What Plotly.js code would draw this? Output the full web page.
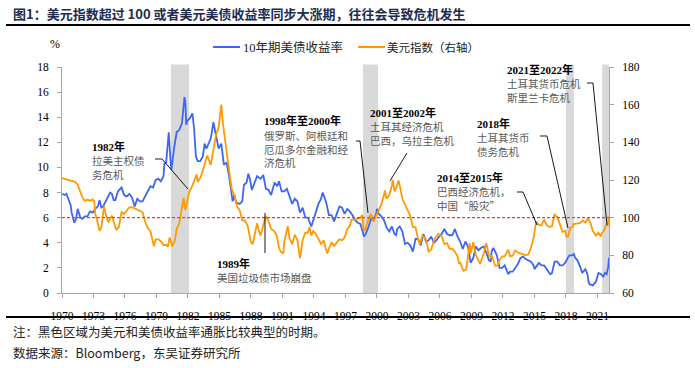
<!DOCTYPE html>
<html><head><meta charset="utf-8">
<script src="https://cdn.plot.ly/plotly-3.0.1.min.js"></script>
<style>html,body{margin:0;padding:0;background:#fff;}#chart{width:695px;height:368px;}</style>
</head><body><div id="chart"></div>
<script>
// ---- data (decimal years) ----
const yieldDates = [1970.00,1970.25,1970.42,1970.58,1970.83,1970.92,1971.17,1971.33,1971.50,1971.75,1971.92,1972.17,1972.42,1972.67,1972.92,1973.17,1973.42,1973.58,1973.75,1973.92,1974.17,1974.33,1974.58,1974.75,1974.92,1975.08,1975.33,1975.67,1975.92,1976.17,1976.42,1976.67,1976.92,1977.17,1977.42,1977.67,1977.92,1978.17,1978.42,1978.67,1978.92,1979.17,1979.42,1979.67,1979.75,1979.92,1980.08,1980.17,1980.33,1980.42,1980.67,1980.92,1981.17,1981.42,1981.67,1981.75,1981.83,1981.92,1982.17,1982.42,1982.58,1982.75,1982.92,1983.17,1983.42,1983.58,1983.75,1983.92,1984.17,1984.42,1984.67,1984.92,1985.17,1985.42,1985.67,1985.92,1986.17,1986.25,1986.42,1986.58,1986.92,1987.17,1987.33,1987.58,1987.75,1987.92,1988.08,1988.42,1988.58,1988.92,1989.17,1989.42,1989.67,1989.92,1990.25,1990.50,1990.67,1990.92,1991.17,1991.42,1991.67,1991.92,1992.17,1992.42,1992.67,1992.92,1993.17,1993.42,1993.75,1993.92,1994.17,1994.42,1994.67,1994.83,1995.17,1995.42,1995.67,1995.92,1996.17,1996.42,1996.67,1996.92,1997.17,1997.42,1997.67,1997.92,1998.17,1998.42,1998.67,1998.75,1998.92,1999.17,1999.42,1999.67,1999.92,2000.00,2000.17,2000.42,2000.67,2000.92,2001.17,2001.42,2001.67,2001.83,2001.92,2002.17,2002.42,2002.67,2002.92,2003.17,2003.42,2003.67,2003.92,2004.17,2004.42,2004.67,2004.92,2005.17,2005.42,2005.67,2005.92,2006.17,2006.42,2006.67,2006.92,2007.17,2007.42,2007.67,2007.92,2008.17,2008.42,2008.67,2008.92,2009.17,2009.42,2009.67,2009.92,2010.17,2010.42,2010.67,2010.83,2010.92,2011.08,2011.42,2011.67,2011.92,2012.17,2012.50,2012.67,2012.92,2013.17,2013.42,2013.67,2013.92,2014.17,2014.42,2014.67,2014.92,2015.00,2015.42,2015.67,2015.92,2016.17,2016.50,2016.67,2016.92,2017.17,2017.42,2017.67,2017.92,2018.17,2018.33,2018.60,2018.75,2018.88,2019.10,2019.35,2019.55,2019.85,2020.05,2020.15,2020.25,2020.55,2020.85,2021.10,2021.35,2021.55,2021.72,2021.87,2021.97,2022.03,2022.10];
const yieldValues = [7.9,7.8,7.9,7.5,7.0,6.4,5.6,5.9,6.7,6.0,5.9,6.1,6.1,6.5,6.4,6.7,6.9,7.4,6.8,6.9,7.3,7.6,8.0,7.9,7.4,7.4,8.1,8.4,7.8,7.7,7.9,7.6,6.9,7.5,7.3,7.3,7.7,8.1,8.5,8.4,9.0,9.1,8.9,9.3,10.3,10.4,12.4,12.8,10.6,9.8,11.5,12.8,13.0,13.5,15.6,15.2,13.4,13.7,13.9,14.3,13.1,10.9,10.5,10.5,10.9,11.9,11.5,11.8,12.3,13.6,12.5,11.5,11.9,10.2,10.4,9.3,7.8,7.3,7.8,7.2,7.1,7.3,8.6,8.8,9.5,9.0,8.2,8.9,9.3,9.1,9.4,8.3,8.2,7.8,8.8,8.5,8.9,8.1,8.1,8.3,7.7,7.1,7.5,7.3,6.4,6.8,6.0,6.0,5.3,5.8,6.5,7.1,7.5,8.0,7.2,6.2,6.2,5.7,6.3,6.9,6.8,6.3,6.7,6.5,6.2,5.8,5.6,5.5,4.8,4.5,4.7,5.2,5.9,5.8,6.3,6.7,6.3,6.1,5.8,5.2,4.9,5.3,4.7,4.6,5.1,5.3,4.9,3.9,4.0,3.8,3.3,4.3,4.3,3.8,4.7,4.1,4.2,4.5,4.0,4.2,4.5,4.7,5.1,4.7,4.6,4.6,5.1,4.5,4.1,3.5,4.1,3.7,2.4,2.8,3.7,3.4,3.6,3.7,3.2,2.6,2.5,3.3,3.6,3.0,2.0,2.0,2.2,1.5,1.7,1.7,2.0,2.3,2.8,2.9,2.7,2.6,2.5,2.2,1.9,2.4,2.2,2.2,1.9,1.5,1.6,2.5,2.5,2.2,2.2,2.4,2.8,3.0,3.0,3.1,2.8,2.6,2.1,1.6,1.9,1.5,0.9,0.7,0.6,0.9,1.6,1.5,1.3,1.6,1.5,1.9,2.1,2.8];

const dxyDates = [1970.00,1970.33,1970.67,1970.92,1971.25,1971.50,1971.67,1971.92,1972.17,1972.42,1972.67,1972.92,1973.08,1973.17,1973.33,1973.50,1973.58,1973.75,1973.92,1974.00,1974.17,1974.42,1974.58,1974.75,1974.92,1975.17,1975.42,1975.67,1975.92,1976.17,1976.42,1976.67,1976.92,1977.17,1977.42,1977.67,1977.92,1978.17,1978.42,1978.75,1978.92,1979.17,1979.42,1979.67,1979.92,1980.08,1980.25,1980.50,1980.75,1980.92,1981.17,1981.42,1981.58,1981.75,1981.92,1982.08,1982.42,1982.67,1982.83,1982.92,1983.17,1983.42,1983.58,1983.83,1984.17,1984.42,1984.67,1984.92,1985.08,1985.17,1985.33,1985.58,1985.75,1985.92,1986.17,1986.42,1986.67,1986.92,1987.17,1987.42,1987.67,1987.92,1988.00,1988.17,1988.42,1988.58,1988.75,1988.92,1989.17,1989.42,1989.67,1989.92,1990.17,1990.42,1990.67,1990.83,1991.08,1991.17,1991.50,1991.67,1991.92,1992.08,1992.17,1992.42,1992.67,1992.92,1993.17,1993.42,1993.58,1993.75,1993.92,1994.17,1994.42,1994.67,1994.92,1995.17,1995.25,1995.42,1995.67,1995.92,1996.17,1996.42,1996.67,1996.92,1997.17,1997.42,1997.58,1997.92,1998.17,1998.42,1998.58,1998.75,1998.92,1999.17,1999.42,1999.67,1999.92,2000.17,2000.42,2000.67,2000.75,2000.92,2001.17,2001.42,2001.50,2001.67,2001.92,2002.00,2002.08,2002.42,2002.67,2002.92,2003.17,2003.42,2003.67,2003.92,2004.08,2004.33,2004.67,2004.92,2005.17,2005.42,2005.83,2005.92,2006.17,2006.42,2006.67,2006.92,2007.17,2007.42,2007.67,2007.83,2007.92,2008.17,2008.25,2008.50,2008.75,2008.83,2008.92,2009.17,2009.42,2009.67,2009.83,2009.92,2010.17,2010.42,2010.67,2010.83,2010.92,2011.25,2011.50,2011.67,2011.92,2012.17,2012.42,2012.50,2012.67,2012.92,2013.17,2013.42,2013.67,2013.92,2014.17,2014.42,2014.67,2014.92,2015.17,2015.42,2015.67,2015.92,2016.17,2016.42,2016.67,2016.92,2017.00,2017.17,2017.42,2017.67,2017.92,2018.05,2018.20,2018.40,2018.60,2018.75,2018.88,2019.10,2019.35,2019.60,2019.85,2020.10,2020.35,2020.55,2020.85,2021.10,2021.30,2021.42,2021.62,2021.77,2021.88,2021.97,2022.03,2022.10];
const dxyValues = [121.0,120.5,120.0,119.8,119.0,117.5,115.0,111.0,109.0,109.5,109.0,109.7,108.5,102.0,99.0,93.5,93.0,95.0,102.5,106.0,101.5,97.5,99.5,101.0,98.0,93.5,95.0,103.0,102.0,104.0,105.5,105.6,105.0,104.5,103.5,103.0,97.8,94.5,93.0,84.8,88.5,88.5,87.5,85.5,85.5,84.6,89.5,84.7,88.0,94.0,97.0,104.0,110.5,104.0,108.0,113.0,117.0,121.0,123.0,119.0,121.0,125.0,128.0,133.0,128.0,136.0,144.0,148.0,158.0,160.0,150.0,138.0,132.0,125.0,115.0,112.0,106.0,104.0,98.5,98.5,96.0,88.8,87.0,86.0,92.0,97.0,93.0,90.5,96.0,101.0,98.0,94.0,93.0,91.0,84.0,82.0,81.0,87.0,95.5,89.0,86.0,90.0,91.0,88.0,78.5,88.0,92.0,92.0,95.0,90.5,93.0,91.5,89.0,86.0,88.0,82.5,81.0,83.5,87.0,85.0,87.0,88.5,88.0,89.5,94.0,95.7,99.0,99.0,99.5,100.0,101.5,93.0,94.0,99.0,102.0,98.0,101.0,104.0,107.0,112.0,114.5,110.0,112.0,117.0,120.0,114.0,117.0,119.0,119.5,110.0,107.0,104.0,101.0,95.0,95.0,88.5,86.0,90.5,88.5,82.0,83.0,88.0,91.5,91.0,90.0,86.0,86.5,83.5,83.5,82.0,79.5,75.5,76.5,72.5,71.8,72.5,84.0,86.5,81.0,87.0,80.0,77.0,75.5,77.0,81.0,86.5,80.0,79.0,80.0,74.5,74.5,77.5,79.5,79.5,82.0,83.0,79.5,79.8,82.5,81.5,81.0,80.5,80.0,80.5,84.0,89.5,98.0,96.0,96.0,99.0,96.0,95.0,95.5,102.0,101.0,100.5,97.0,92.5,93.0,89.8,89.9,94.5,95.0,96.8,96.7,96.8,97.2,98.5,97.5,99.5,97.0,93.0,90.5,92.0,90.0,92.0,93.0,95.5,96.3,96.0,98.5,100.5];

const xTickVals = [1970,1973,1976,1979,1982,1985,1988,1991,1994,1997,2000,2003,2006,2009,2012,2015,2018,2021];
const leftTicks = [0,2,4,6,8,10,12,14,16,18];
const rightTicks = [60,80,100,120,140,160,180];
const shadeStarts = [1980.38, 1998.67, 2018.0, 2021.45];
const shadeEnds   = [1982.10, 2000.10, 2018.76, 2022.10];
const thresholdYield = 6;
const seriesNames = ['10年期美债收益率', '美元指数（右轴）'];

// ---- layout helpers (pixel -> paper) ----
const L = 62, R = 609, T = 67, B = 293;
const PX = px => (px - L) / (R - L);
const PY = py => (B - py) / (B - T);
const BLUE = '#3d66f2', ORANGE = '#ff9a00';
const SERIF = 'Liberation Serif, Noto Sans CJK SC, serif';
const CJK = 'Noto Sans CJK SC, Liberation Serif, sans-serif';

const traces = [
  {x: yieldDates, y: yieldValues, type: 'scatter', mode: 'lines', name: seriesNames[0],
   line: {color: BLUE, width: 1.8}, yaxis: 'y', showlegend: false},
  {x: dxyDates, y: dxyValues, type: 'scatter', mode: 'lines', name: seriesNames[1],
   line: {color: ORANGE, width: 1.8}, yaxis: 'y2', showlegend: false}
];

const shapes = [];
shadeStarts.forEach((s, i) => shapes.push({type: 'rect', xref: 'x', yref: 'paper', x0: s, x1: shadeEnds[i],
  y0: 0, y1: PY(64.5), fillcolor: '#d9d9d9', line: {width: 0}, layer: 'below'}));
shapes.push({type: 'line', xref: 'paper', yref: 'y', x0: 0, x1: 1, y0: thresholdYield, y1: thresholdYield,
  line: {color: '#e5403a', width: 1.2, dash: '3px,2px'}});
// title / footer rules
shapes.push({type: 'line', xref: 'paper', yref: 'paper', x0: PX(6), x1: PX(690), y0: PY(25), y1: PY(25), line: {color: '#000', width: 2.2}});
shapes.push({type: 'line', xref: 'paper', yref: 'paper', x0: PX(6), x1: PX(690), y0: PY(317), y1: PY(317), line: {color: '#000', width: 2.2}});
// legend samples
shapes.push({type: 'line', xref: 'paper', yref: 'paper', x0: PX(213), x1: PX(240), y0: PY(47), y1: PY(47), line: {color: BLUE, width: 2}});
shapes.push({type: 'line', xref: 'paper', yref: 'paper', x0: PX(358), x1: PX(385), y0: PY(47), y1: PY(47), line: {color: ORANGE, width: 2}});
// leader lines
const leaders = [
  [[155,159],[162,159],[188,189]],
  [[265,213],[265,253]],
  [[356,141],[360,141],[368,213]],
  [[407,153],[390,181]],
  [[517,192],[523,192],[537,225]],
  [[540,136],[547,136],[568,228]],
  [[587,83],[593,83],[607,225]]
];
leaders.forEach(pts => {
  const d = pts.map((p, i) => (i ? 'L' : 'M') + PX(p[0]).toFixed(4) + ',' + PY(p[1]).toFixed(4)).join(' ');
  shapes.push({type: 'path', xref: 'paper', yref: 'paper', path: d, line: {color: '#000', width: 0.9}});
});

const ann = [];
function txt(text, px, py, font, xanchor) {
  ann.push({text: text, xref: 'paper', yref: 'paper', x: PX(px), y: PY(py), xanchor: xanchor || 'left',
    yanchor: 'middle', showarrow: false, font: font, align: 'left', borderpad: 0});
}
const boldF = {family: SERIF, size: 11, color: '#000'};
const bodyF = {family: CJK, size: 10.5, color: '#595959'};
txt('<b>图1：美元指数超过 100 或者美元美债收益率同步大涨期，往往会导致危机发生</b>', 12, 13, {family: CJK, size: 13, color: '#1c2b4f'});
txt('%', 55, 44, {family: SERIF, size: 12, color: '#000'}, 'center');
txt(seriesNames[0], 242, 47, {family: SERIF, size: 12.5, color: '#222'});
txt(seriesNames[1], 386, 47, {family: CJK, size: 11.5, color: '#222'});

txt('<b>1982年</b>', 91, 146, boldF);
txt('拉美主权债<br>务危机', 91, 167, bodyF);
txt('<b>1989年</b>', 216, 263, boldF);
txt('美国垃圾债市场崩盘', 216, 277, bodyF);
txt('<b>1998年至2000年</b>', 263, 120, boldF);
txt('俄罗斯、阿根廷和<br>厄瓜多尔金融和经<br>济危机', 263, 149, bodyF);
txt('<b>2001至2002年</b>', 369, 112, boldF);
txt('土耳其经济危机<br>巴西，乌拉圭危机', 369, 133.5, bodyF);
txt('<b>2014至2015年</b>', 436, 177, boldF);
txt('巴西经济危机，<br>中国“股灾”', 436, 198.5, bodyF);
txt('<b>2018年</b>', 476, 123, boldF);
txt('土耳其货币<br>债务危机', 476, 144, bodyF);
txt('<b>2021至2022年</b>', 506, 69, boldF);
txt('土耳其货币危机<br>斯里兰卡危机', 506, 90.5, bodyF);

txt('注：黑色区域为美元和美债收益率通胀比较典型的时期。', 12, 331, {family: CJK, size: 12.5, color: '#222'});
txt('数据来源：Bloomberg，东吴证券研究所', 12, 352, {family: CJK, size: 12.5, color: '#222'});

const axisCommon = {showgrid: false, zeroline: false, showline: true, linecolor: '#a6a6a6', linewidth: 1,
  ticks: 'outside', ticklen: 4, tickcolor: '#a6a6a6', tickfont: {family: SERIF, size: 11.5, color: '#000'}, fixedrange: true};

const layout = {
  width: 695, height: 368,
  margin: {l: L, r: 695 - R, t: T, b: 368 - B, pad: 0},
  paper_bgcolor: '#fff', plot_bgcolor: '#fff',
  showlegend: false,
  xaxis: Object.assign({}, axisCommon, {range: [1970, 2022.1], tickvals: xTickVals, ticktext: xTickVals.map(String), ticklabelstandoff: 8}),
  yaxis: Object.assign({}, axisCommon, {range: [0, 18], tickvals: leftTicks, ticklabelstandoff: 6}),
  yaxis2: Object.assign({}, axisCommon, {range: [60, 180], tickvals: rightTicks, overlaying: 'y', side: 'right', ticklabelstandoff: 6}),
  shapes: shapes,
  annotations: ann
};

Plotly.newPlot('chart', traces, layout, {staticPlot: true, displayModeBar: false});
</script>
</body></html>
